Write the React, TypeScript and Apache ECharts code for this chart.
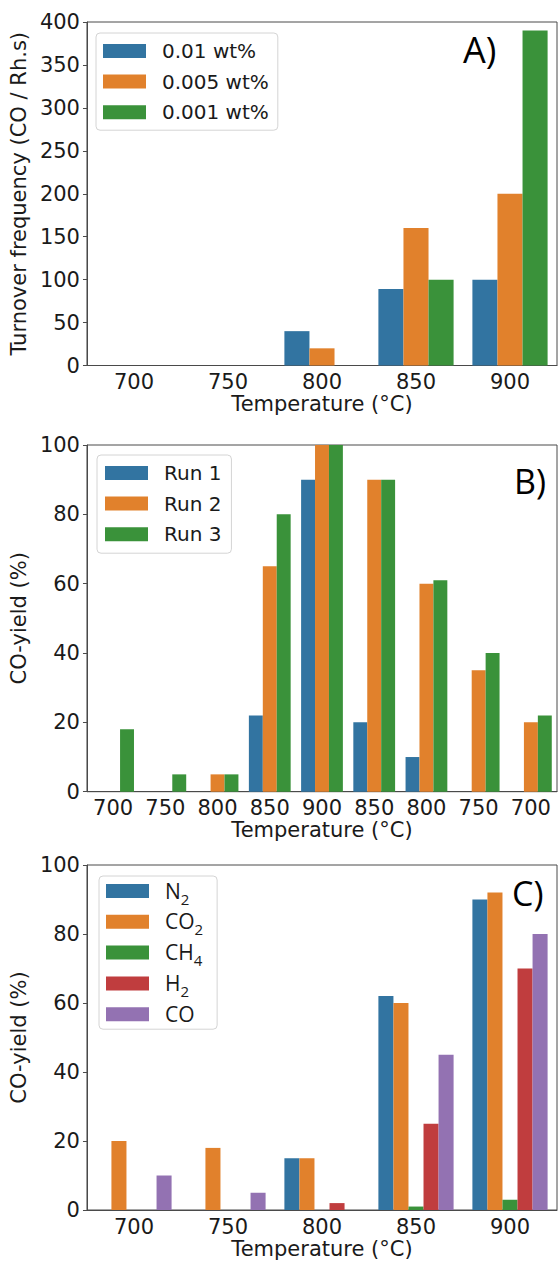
import React, { useEffect, useRef } from "react";
import * as echarts from "echarts";

const tempsA = ["700", "750", "800", "850", "900"];
const tof001 = [0, 0, 40, 89, 100];
const tof0005 = [0, 0, 20, 160, 200];
const tof0001 = [0, 0, 0, 100, 390];

const tempsB = ["700", "750", "800", "850", "900", "850", "800", "750", "700"];
const run1 = [0, 0, 0, 22, 90, 20, 10, 0, 0];
const run2 = [0, 0, 5, 65, 100, 90, 60, 35, 20];
const run3 = [18, 5, 5, 80, 100, 90, 61, 40, 22];

const tempsC = ["700", "750", "800", "850", "900"];
const yieldN2 = [0, 0, 15, 62, 90];
const yieldCO2 = [20, 18, 15, 60, 92];
const yieldCH4 = [0, 0, 0, 1, 3];
const yieldH2 = [0, 0, 2, 25, 70];
const yieldCO = [10, 5, 0, 45, 80];

const COLORS = ["#3274a1", "#e1812c", "#3a923a", "#c03d3e", "#9372b2"];
const FONT = "DejaVu Sans";
const TXT = "#1a1a1a";

export default function App() {
  const ref = useRef<HTMLDivElement>(null);
  useEffect(() => {
    if (!ref.current) return;
    const chart = echarts.init(ref.current, null, { renderer: "svg" });

    const grids = [
      { left: 85, top: 22, width: 472, height: 343.5 },
      { left: 85, top: 445, width: 472, height: 346.7 },
      { left: 85, top: 865, width: 472, height: 345 },
    ].map((g) => ({ ...g, show: true, borderColor: "#4a4a4a", borderWidth: 1, backgroundColor: "transparent" }));

    const xAxisBase = (idx: number, data: string[]) => ({
      type: "category",
      gridIndex: idx,
      data,
      name: "Temperature (°C)",
      nameLocation: "middle",
      nameGap: 28,
      nameTextStyle: { fontFamily: FONT, fontSize: 21, color: TXT },
      axisLine: { lineStyle: { color: "#4a4a4a", width: 1 } },
      axisTick: { alignWithLabel: true, length: 4, lineStyle: { color: "#4a4a4a" } },
      axisLabel: { fontFamily: FONT, fontSize: 21, color: TXT, margin: 6, interval: 0 },
      splitLine: { show: false },
    });

    const yAxisBase = (idx: number, name: string, max: number, interval: number) => ({
      type: "value",
      gridIndex: idx,
      min: 0,
      max,
      interval,
      name,
      nameLocation: "middle",
      nameRotate: 90,
      nameGap: 51,
      nameTextStyle: { fontFamily: FONT, fontSize: 21, color: TXT },
      axisLine: { show: true, lineStyle: { color: "#4a4a4a", width: 1 } },
      axisTick: { show: true, length: 4, lineStyle: { color: "#4a4a4a" } },
      axisLabel: { fontFamily: FONT, fontSize: 21, color: TXT, margin: 7 },
      splitLine: { show: false },
    });

    const bar = (name: string, data: number[], idx: number, color: string) => ({
      type: "bar",
      name,
      data,
      xAxisIndex: idx,
      yAxisIndex: idx,
      barGap: "0%",
      barCategoryGap: "20%",
      itemStyle: { color },
    });

    const legendBase = (names: string[], left: number, top: number, padding: number[], font = FONT, size = 20) => ({
      data: names,
      orient: "vertical",
      left,
      top,
      icon: "rect",
      itemWidth: 43,
      itemHeight: 14,
      itemGap: 8.6,
      padding,
      borderColor: "#d4d4d4",
      borderWidth: 1,
      borderRadius: 4,
      backgroundColor: "rgba(255,255,255,0.8)",
      selectedMode: false,
      textStyle: {
        fontFamily: font,
        fontSize: size,
        color: TXT,
        lineHeight: 22,
        padding: [0, 0, 0, 11],
        rich: {
          m: { fontFamily: font, fontSize: size, lineHeight: 22, color: TXT, verticalAlign: "top" },
          sub: { fontFamily: font, fontSize: 15, lineHeight: 15, padding: [11, 0, 0, 0], verticalAlign: "top", color: TXT },
        },
      },
    });

    const series = [
      bar("0.01 wt%", tof001, 0, COLORS[0]),
      bar("0.005 wt%", tof0005, 0, COLORS[1]),
      bar("0.001 wt%", tof0001, 0, COLORS[2]),
      bar("Run 1", run1, 1, COLORS[0]),
      bar("Run 2", run2, 1, COLORS[1]),
      bar("Run 3", run3, 1, COLORS[2]),
      bar("N2", yieldN2, 2, COLORS[0]),
      bar("CO2", yieldCO2, 2, COLORS[1]),
      bar("CH4", yieldCH4, 2, COLORS[2]),
      bar("H2", yieldH2, 2, COLORS[3]),
      bar("CO", yieldCO, 2, COLORS[4]),
    ];

    const legC = legendBase(["N2", "CO2", "CH4", "H2", "CO"], 99, 876, [4, 14, 4, 7], "Open Sans", 21) as any;
    legC.itemGap = 4.8;
    legC.formatter = (name: string) =>
      name.replace(/([A-Z]+)(\d?)/g, (_s: string, a: string, d: string) => `{m|${a}}` + (d ? `{sub|${d}}` : ""));

    chart.setOption({
      animation: false,
      grid: grids,
      xAxis: [xAxisBase(0, tempsA), xAxisBase(1, tempsB), xAxisBase(2, tempsC)],
      yAxis: [
        yAxisBase(0, "Turnover frequency (CO / Rh.s)", 400, 50),
        yAxisBase(1, "CO-yield (%)", 100, 20),
        yAxisBase(2, "CO-yield (%)", 100, 20),
      ],
      legend: [
        legendBase(["0.01 wt%", "0.005 wt%", "0.001 wt%"], 96, 33, [7, 9, 7, 7]),
        legendBase(["Run 1", "Run 2", "Run 3"], 97, 455, [7, 10, 8, 8]),
        legC,
      ],
      graphic: [
        { type: "text", left: 463, top: 31, style: { text: "A)", font: "36px 'Open Sans'", fill: "#000" } },
        { type: "text", left: 514, top: 464, style: { text: "B)", font: "34px 'Open Sans'", fill: "#000" } },
        { type: "text", left: 512, top: 876, style: { text: "C)", font: "34px 'Open Sans'", fill: "#000" } },
      ],
      series,
    });
    return () => chart.dispose();
  }, []);
  return (
    <div
      ref={ref}
      style={{ position: "fixed", left: 0, top: 0, width: 558, height: 1261, background: "#fff" }}
    />
  );
}
